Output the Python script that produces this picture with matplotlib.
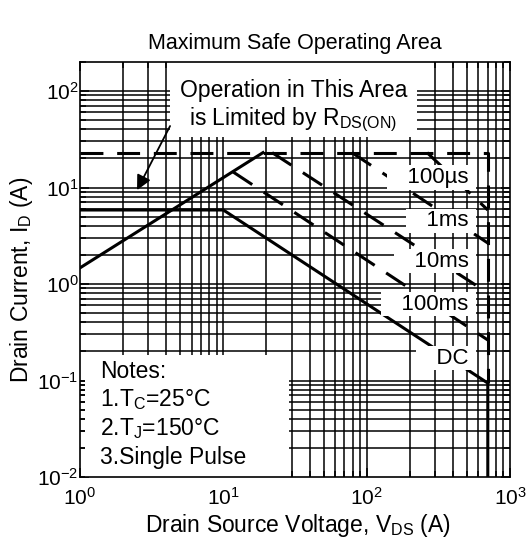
import matplotlib
matplotlib.use("Agg")
import matplotlib.pyplot as plt
from matplotlib.patches import Rectangle

plt.rcParams["font.family"] = ["Liberation Sans", "DejaVu Sans"]
plt.rcParams["mathtext.fontset"] = "custom"
plt.rcParams["mathtext.rm"] = "Liberation Sans"
plt.rcParams["mathtext.it"] = "Liberation Sans:italic"
plt.rcParams["mathtext.bf"] = "Liberation Sans:bold"
plt.rcParams["axes.unicode_minus"] = False

# boundary lines, V (x) / A (y)
rds_v = [1.0, 18.9]
rds_i = [1.47, 23.0]
limit_v = [1.0, 700.0, 700.0]
limit_i = [23.0, 23.0, 0.094]
dc_v = [1.0, 10.0, 700.0, 700.0]
dc_i = [5.85, 5.85, 0.094, 0.01]

pulse_names = ["100µs", "1ms", "10ms", "100ms"]
pulse_v = [[264.0, 700.0], [79.0, 700.0], [21.9, 700.0], [11.7, 700.0]]
pulse_i = [[23.0, 5.85], [23.0, 2.66], [23.0, 0.807], [14.5, 0.263]]

label_names = pulse_names + ["DC"]
label_i = [12.7, 4.5, 1.73, 0.62, 0.171]

notes = ["Notes:", "1.T$_\\mathrm{C}$=25°C", "2.T$_\\mathrm{J}$=150°C", "3.Single Pulse"]

X_LIM = (1, 1000)
Y_LIM = (0.01, 200)

fig = plt.figure(figsize=(5.32, 5.47), dpi=100)
ax = fig.add_axes([80 / 532, 70 / 547, 430 / 532, 415 / 547])
ax.set_xscale("log")
ax.set_yscale("log")
ax.set_xlim(*X_LIM)
ax.set_ylim(*Y_LIM)

# hand-drawn grid so the note boxes can sit between grid and ticks
for d in range(-2, 3):
    for k in range(1, 10):
        v = k * 10.0 ** d
        if Y_LIM[0] < v < Y_LIM[1]:
            ax.axhline(v, color="black", lw=1.1, zorder=1)
for d in range(0, 3):
    for k in range(1, 10):
        v = k * 10.0 ** d
        if X_LIM[0] < v < X_LIM[1]:
            ax.axvline(v, color="black", lw=1.1, zorder=1)

dash = (0, (7.5, 4.5))
ax.plot(rds_v, rds_i, color="black", lw=2.2, zorder=1.6)
ax.plot(limit_v, limit_i, color="black", lw=2.2, ls=dash, zorder=1.6)
ax.plot(dc_v, dc_i, color="black", lw=2.2, zorder=1.6)
for v, i in zip(pulse_v, pulse_i):
    ax.plot(v, i, color="black", lw=2.2, ls=dash, zorder=1.6)

for name, y in zip(label_names, label_i):
    ax.text(566, y, "   " + name + " ", ha="right", va="center", fontsize=16,
            zorder=2, bbox=dict(boxstyle="square,pad=0.08", fc="white", ec="none"))

# Notes box
ax.add_patch(Rectangle((0.012, 0.0), 0.474, 0.294, transform=ax.transAxes,
                       fc="white", ec="none", zorder=2))
for txt, yb in zip(notes, [0.2386, 0.170, 0.101, 0.0325]):
    ax.text(0.0465, yb, txt, transform=ax.transAxes, ha="left", va="baseline",
            fontsize=16.5, zorder=2.1)

# R_DS(ON) box and arrow
ax.add_patch(Rectangle((0.209, 0.819), 0.575, 0.181, transform=ax.transAxes,
                       fc="white", ec="none", zorder=2))
ax.text(0.4965, 0.916, "Operation in This Area", transform=ax.transAxes,
        ha="center", va="baseline", fontsize=16.5, zorder=2.1)
ax.text(0.4965, 0.848, "is Limited by R$_\\mathrm{DS(ON)}$", transform=ax.transAxes,
        ha="center", va="baseline", fontsize=16.5, zorder=2.1)
ax.annotate("", xy=(2.5, 9.4), xytext=(4.25, 43.4),
            arrowprops=dict(arrowstyle="-|>", color="black", lw=1.3,
                            mutation_scale=22, shrinkA=0, shrinkB=0),
            zorder=2.2)

ax.tick_params(which="both", direction="in", top=True, right=True, width=1.1,
               labelsize=15)
ax.tick_params(which="major", length=6.5)
ax.tick_params(which="minor", length=4.5)
ax.tick_params(axis="x", pad=7)
ax.tick_params(axis="y", pad=1)
for s in ax.spines.values():
    s.set_linewidth(1.2)

fig.text(295 / 532, 1 - 44 / 547, "Maximum Safe Operating Area", ha="center",
         va="center", fontsize=15.5)
fig.text(297.5 / 532, 1 - 532 / 547, "Drain Source Voltage, V$_\\mathrm{DS}$ (A)",
         ha="center", va="baseline", fontsize=16.5)
fig.text(22 / 532, 1 - 280 / 547, "Drain Current, I$_\\mathrm{D}$ (A)", ha="center",
         va="center", rotation=90, fontsize=16.5)

fig.savefig("out.png", dpi=100)
